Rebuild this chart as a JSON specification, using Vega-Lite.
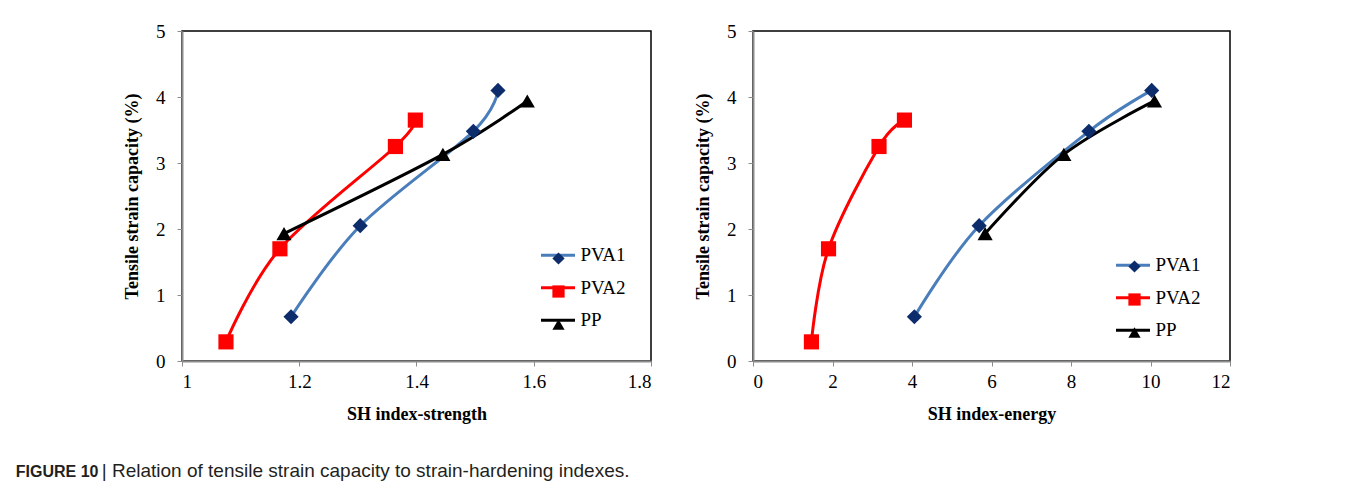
{
  "$schema": "https://vega.github.io/schema/vega-lite/v6.json",
  "background": "white",
  "padding": {"left": 15, "top": 21, "right": 5, "bottom": 5},
  "datasets": {
    "pts": [
      {"series": "PVA1", "strength": 1.186, "energy": 4.06, "strain": 0.67},
      {"series": "PVA1", "strength": 1.304, "energy": 5.69, "strain": 2.05},
      {"series": "PVA1", "strength": 1.497, "energy": 8.45, "strain": 3.48},
      {"series": "PVA1", "strength": 1.539, "energy": 10.03, "strain": 4.1},
      {"series": "PVA2", "strength": 1.075, "energy": 1.47, "strain": 0.29},
      {"series": "PVA2", "strength": 1.167, "energy": 1.9, "strain": 1.7},
      {"series": "PVA2", "strength": 1.364, "energy": 3.17, "strain": 3.25},
      {"series": "PVA2", "strength": 1.398, "energy": 3.81, "strain": 3.65},
      {"series": "PP", "strength": 1.174, "energy": 5.84, "strain": 1.93},
      {"series": "PP", "strength": 1.445, "energy": 7.82, "strain": 3.13},
      {"series": "PP", "strength": 1.589, "energy": 10.1, "strain": 3.94}
    ]
  },
  "data": {"name": "pts"},
  "title": {
    "text": "FIGURE 10",
    "subtitle": "| Relation of tensile strain capacity to strain-hardening indexes.",
    "orient": "bottom",
    "anchor": "start",
    "font": "Liberation Sans",
    "fontSize": 16,
    "fontWeight": "bold",
    "color": "#231f20",
    "subtitleFont": "Liberation Sans",
    "subtitleFontSize": 19,
    "subtitleFontWeight": "normal",
    "subtitleColor": "#231f20",
    "subtitlePadding": -18,
    "offset": 40,
    "dx": -107,
    "encode": {"subtitle": {"update": {"dx": {"value": -21}}}}
  },
  "spacing": 40,
  "resolve": {"scale": {"color": "independent", "fill": "independent", "shape": "independent"}},
  "hconcat": [
    {
      "width": 469,
      "height": 330,
      "layer": [
        {
          "mark": {"type": "line", "interpolate": "cardinal", "strokeWidth": 3},
          "encoding": {
            "x": {"field": "strength", "type": "quantitative", "scale": {"domain": [1, 1.8]}, "axis": {"title": "SH index-strength", "values": [1, 1.2, 1.4, 1.6, 1.8], "format": "~g"}},
            "y": {"field": "strain", "type": "quantitative", "scale": {"domain": [0, 5]}, "axis": {"title": "Tensile strain capacity (%)", "values": [0, 1, 2, 3, 4, 5], "format": "d"}},
            "color": {
              "field": "series", "type": "nominal", "sort": ["PVA1", "PVA2", "PP"],
              "scale": {"range": ["#4a7ebb", "#ff0000", "#000000"]},
              "legend": {"orient": "none", "legendX": 357.5, "legendY": 205.75, "title": null, "symbolType": "stroke", "symbolSize": 1156, "symbolStrokeWidth": 3, "rowPadding": 3.5, "labelOffset": 4}
            }
          }
        },
        {
          "mark": {"type": "point", "filled": true, "opacity": 1, "size": 230},
          "encoding": {
            "x": {"field": "strength", "type": "quantitative"},
            "y": {"field": "strain", "type": "quantitative"},
            "fill": {
              "field": "series", "type": "nominal",
              "scale": {"domain": ["PVA1", "PVA2", "PP"], "range": ["#0c2c6c", "#ff0000", "#000000"]},
              "legend": {"orient": "none", "legendX": 367, "legendY": 218, "title": null, "symbolSize": 150, "rowPadding": 13, "labelExpr": "''"}
            },
            "shape": {
              "field": "series", "type": "nominal",
              "scale": {"domain": ["PVA1", "PVA2", "PP"], "range": ["diamond", "square", "triangle-up"]},
              "legend": {"orient": "none", "legendX": 367, "legendY": 218, "title": null, "symbolSize": 150, "rowPadding": 13, "labelExpr": "''"}
            }
          }
        }
      ]
    },
    {
      "width": 477,
      "height": 330,
      "layer": [
        {
          "mark": {"type": "line", "interpolate": "cardinal", "strokeWidth": 3},
          "encoding": {
            "x": {"field": "energy", "type": "quantitative", "scale": {"domain": [0, 12]}, "axis": {"title": "SH index-energy", "values": [0, 2, 4, 6, 8, 10, 12]}},
            "y": {"field": "strain", "type": "quantitative", "scale": {"domain": [0, 5]}, "axis": {"title": "Tensile strain capacity (%)", "values": [0, 1, 2, 3, 4, 5], "format": "d"}},
            "color": {
              "field": "series", "type": "nominal", "sort": ["PVA1", "PVA2", "PP"],
              "scale": {"range": ["#4a7ebb", "#ff0000", "#000000"]},
              "legend": {"orient": "none", "legendX": 361.5, "legendY": 215.75, "title": null, "symbolType": "stroke", "symbolSize": 1156, "symbolStrokeWidth": 3, "rowPadding": 3.5, "labelOffset": 4}
            }
          }
        },
        {
          "mark": {"type": "point", "filled": true, "opacity": 1, "size": 230},
          "encoding": {
            "x": {"field": "energy", "type": "quantitative"},
            "y": {"field": "strain", "type": "quantitative"},
            "fill": {
              "field": "series", "type": "nominal",
              "scale": {"domain": ["PVA1", "PVA2", "PP"], "range": ["#0c2c6c", "#ff0000", "#000000"]},
              "legend": {"orient": "none", "legendX": 372, "legendY": 226, "title": null, "symbolSize": 150, "rowPadding": 13, "labelExpr": "''"}
            },
            "shape": {
              "field": "series", "type": "nominal",
              "scale": {"domain": ["PVA1", "PVA2", "PP"], "range": ["diamond", "square", "triangle-up"]},
              "legend": {"orient": "none", "legendX": 372, "legendY": 226, "title": null, "symbolSize": 150, "rowPadding": 13, "labelExpr": "''"}
            }
          }
        }
      ]
    }
  ],
  "config": {
    "view": {"stroke": "#000000", "strokeWidth": 1.5},
    "axis": {
      "grid": false,
      "domainColor": "#8c8c8c",
      "domainWidth": 2,
      "tickColor": "#8c8c8c",
      "tickWidth": 1,
      "tickSize": 5,
      "labelFont": "Liberation Serif",
      "labelFontSize": 19,
      "labelColor": "#000000",
      "titleFont": "Liberation Serif",
      "titleFontSize": 18,
      "titleFontWeight": "bold",
      "titleColor": "#000000"
    },
    "axisX": {"labelPadding": 6, "titlePadding": 14},
    "axisY": {"labelPadding": 12, "titlePadding": 14},
    "legend": {"labelFont": "Liberation Serif", "labelFontSize": 19, "labelColor": "#000000", "padding": 0}
  }
}
